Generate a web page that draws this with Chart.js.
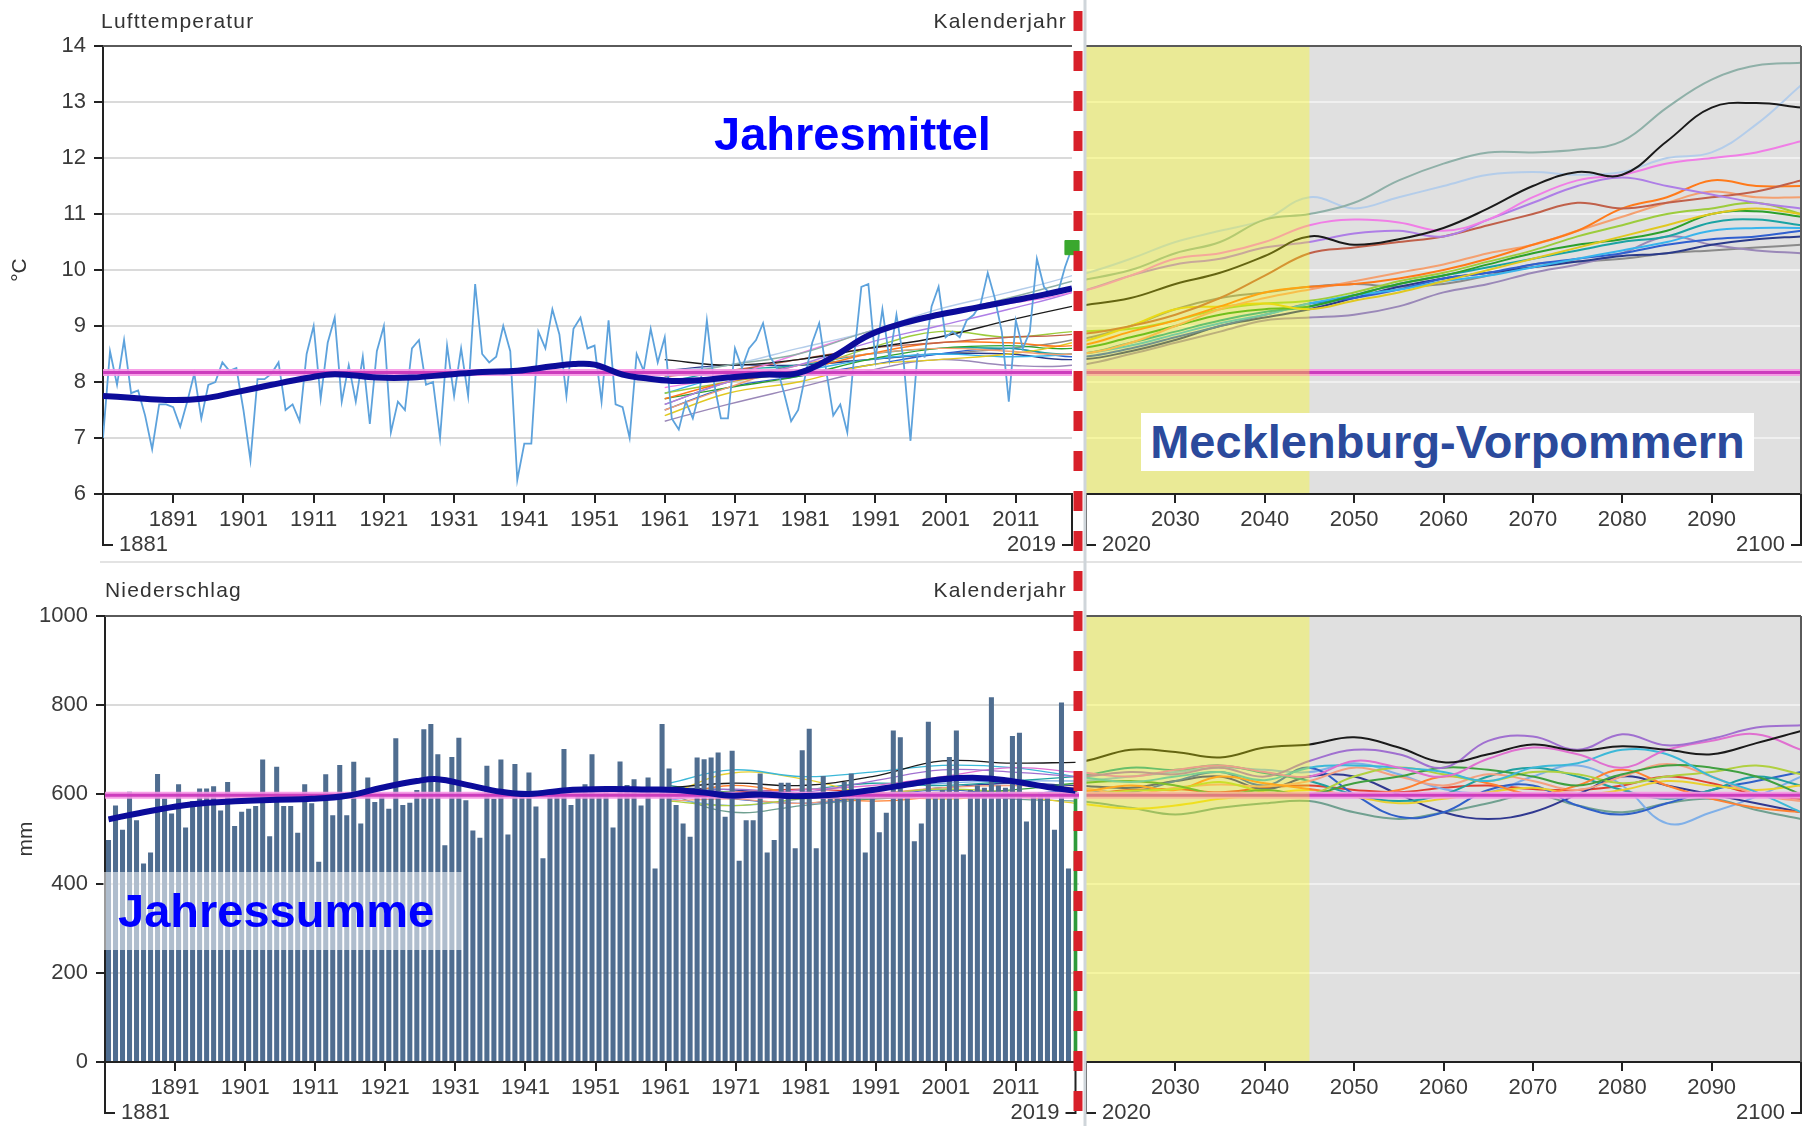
<!DOCTYPE html>
<html lang="de">
<head>
<meta charset="utf-8">
<title>Lufttemperatur und Niederschlag – Mecklenburg-Vorpommern</title>
<script src="https://cdn.jsdelivr.net/npm/chart.js"></script>
<style>
  html, body { margin: 0; padding: 0; background: #fff; }
  #page { position: relative; width: 1802px; height: 1126px; overflow: hidden; font-family: 'Liberation Sans', Arial, sans-serif; }
  canvas { position: absolute; }
  #tempHist { left: 0; top: 0; z-index: 2; }
  #tempProj { left: 1080px; top: 0; z-index: 1; }
  #rainHist { left: 0; top: 562px; z-index: 2; }
  #rainProj { left: 1080px; top: 562px; z-index: 1; }
  #divider { position: absolute; left: 100px; top: 561px; width: 1702px; height: 2px; background: #e3e3e3; }
  .lbl { position: absolute; font-size: 21px; line-height: 25px; letter-spacing: 1.2px; color: #333; white-space: nowrap; z-index: 3; }
  .big { position: absolute; font-weight: bold; font-size: 47px; white-space: nowrap; z-index: 3; }
</style>
</head>
<body>
<div id="page">
  <div id="divider"></div>
  <canvas id="tempHist" width="1090" height="562"></canvas>
  <canvas id="tempProj" width="722" height="562"></canvas>
  <canvas id="rainHist" width="1090" height="564"></canvas>
  <canvas id="rainProj" width="722" height="564"></canvas>

  <div class="lbl" style="left:101px; top:8px;">Lufttemperatur</div>
  <div class="lbl" style="right:735px; top:8px;">Kalenderjahr</div>
  <div class="lbl" style="left:105px; top:577px;">Niederschlag</div>
  <div class="lbl" style="right:735px; top:577px;">Kalenderjahr</div>

  <div class="big" style="left:714px; top:110px; line-height:47px; color:#0000ff;">Jahresmittel</div>
  <div class="big" style="left:1141px; top:413px; width:613px; height:58px; line-height:58px; text-align:center; background:#fff; color:#2b4a9c;">Mecklenburg-Vorpommern</div>
  <div class="big" style="left:103px; top:872px; width:345px; height:78px; line-height:78px; padding-left:15px; background:rgba(255,255,255,0.55); color:#0000ff;">Jahressumme</div>
</div>

<script>
// ---------- data ----------
const YEARS = [];
for (let y = 1881; y <= 2019; y++) YEARS.push(y);

// annual mean air temperature (°C), 1881-2019
const TEMP_ANNUAL = [
  7.0, 8.55, 7.95, 8.75, 7.8, 7.85, 7.4, 6.8, 7.6, 7.6,
  7.55, 7.2, 7.65, 8.15, 7.35, 7.95, 8.0, 8.35, 8.2, 8.25,
  7.5, 6.6, 8.05, 8.05, 8.15, 8.35, 7.5, 7.6, 7.3, 8.5,
  9.0, 7.7, 8.7, 9.15, 7.65, 8.3, 7.65, 8.45, 7.25, 8.55,
  9.0, 7.1, 7.65, 7.5, 8.6, 8.75, 7.95, 8.0, 7.0, 8.65,
  7.75, 8.6, 7.75, 9.75, 8.5, 8.35, 8.45, 9.0, 8.55, 6.25,
  6.9, 6.9, 8.9, 8.6, 9.3, 8.85, 7.75, 8.95, 9.15, 8.6,
  8.65, 7.65, 9.1, 7.6, 7.55, 7.0, 8.5, 8.2, 8.95, 8.35,
  8.8, 7.35, 7.15, 7.65, 7.35, 7.85, 9.1, 8.0, 7.35, 7.35,
  8.6, 8.25, 8.6, 8.75, 9.05, 8.45, 8.25, 7.8, 7.3, 7.5,
  8.1, 8.7, 9.05, 8.2, 7.4, 7.6, 7.1, 8.5, 9.7, 9.75,
  8.4, 9.3, 8.4, 9.2, 8.4, 6.95, 8.5, 8.45, 9.35, 9.7,
  8.8, 8.9, 8.8, 9.1, 9.2, 9.4, 9.95, 9.5, 8.9, 7.65,
  9.1, 8.6, 8.9, 10.2, 9.7, 9.55, 9.6, 10.05, 10.4
];
const TEMP_MEAN = 8.17;
const SMOOTH_T_YEARS = [1881, 1885, 1890, 1895, 1900, 1905, 1910, 1914, 1920, 1925, 1930, 1935, 1940, 1945, 1948, 1951, 1955, 1958, 1962, 1966, 1970, 1975, 1980, 1985, 1990, 1995, 2000, 2005, 2010, 2015, 2019];
const SMOOTH_T = [7.75, 7.72, 7.68, 7.7, 7.82, 7.95, 8.07, 8.14, 8.08, 8.08, 8.13, 8.18, 8.2, 8.28, 8.32, 8.31, 8.13, 8.07, 8.02, 8.03, 8.08, 8.13, 8.16, 8.45, 8.83, 9.05, 9.2, 9.32, 9.44, 9.56, 9.67];

// annual precipitation (mm), 1881-2019
const PRECIP_ANNUAL = [
  498, 575, 521, 606, 542, 445, 470, 646, 591, 557,
  623, 526, 585, 613, 613, 618, 564, 628, 529, 561,
  568, 574, 678, 506, 662, 574, 574, 514, 623, 580,
  449, 645, 553, 666, 553, 673, 535, 638, 583, 602,
  568, 726, 576, 581, 610, 746, 758, 690, 486, 684,
  727, 587, 519, 503, 664, 590, 678, 510, 668, 600,
  649, 573, 457, 595, 600, 702, 576, 600, 623, 690,
  600, 605, 526, 674, 621, 634, 575, 638, 434, 758,
  658, 576, 535, 505, 683, 679, 683, 694, 550, 698,
  451, 542, 542, 647, 470, 498, 626, 626, 479, 699,
  747, 479, 641, 595, 600, 628, 647, 600, 470, 610,
  515, 559, 743, 728, 605, 495, 535, 763, 600, 610,
  684, 743, 465, 610, 620, 615, 818, 620, 615, 731,
  738, 539, 600, 605, 595, 521, 806, 434, 607
];
const PRECIP_MEAN = 598;
const SMOOTH_P_YEARS = [1881, 1886, 1893, 1900, 1905, 1910, 1915, 1920, 1925, 1928, 1932, 1937, 1941, 1946, 1952, 1958, 1962, 1966, 1970, 1974, 1979, 1985, 1990, 1995, 2000, 2005, 2009, 2013, 2016, 2019];
const SMOOTH_P = [544, 560, 578, 585, 588, 590, 597, 615, 630, 634, 622, 606, 601, 609, 612, 611, 610, 604, 597, 600, 596, 600, 610, 622, 634, 637, 632, 622, 614, 608];

// climate model runs (smoothed), sampled years
const MODEL_YEARS = [1961, 1970, 1980, 1990, 2000, 2010, 2019, 2025, 2030, 2035, 2040, 2045, 2050, 2055, 2060, 2065, 2070, 2075, 2080, 2085, 2090, 2095, 2100];

const TEMP_MODELS = [
  [8.1, 8.3, 8.5, 8.9, 9.2, 9.5, 9.8, 10.0, 10.3, 10.5, 10.9, 11.0, 11.2, 11.6, 11.9, 12.1, 12.1, 12.15, 12.3, 12.9, 13.4, 13.65, 13.7],
  [8.4, 8.3, 8.4, 8.6, 8.8, 9.1, 9.35, 9.5, 9.75, 9.95, 10.25, 10.6, 10.45, 10.55, 10.75, 11.1, 11.5, 11.75, 11.7, 12.3, 12.9, 12.98, 12.9],
  [8.2, 8.3, 8.6, 8.9, 9.3, 9.6, 9.9, 10.2, 10.5, 10.7, 10.9, 11.3, 11.1, 11.3, 11.5, 11.7, 11.75, 11.7, 11.75, 12.0, 12.1, 12.6, 13.3],
  [7.9, 8.1, 8.5, 8.9, 9.2, 9.4, 9.6, 9.9, 10.2, 10.3, 10.5, 10.8, 10.9, 10.85, 10.7, 10.9, 11.3, 11.6, 11.7, 11.9, 12.0, 12.1, 12.3],
  [7.6, 8.0, 8.3, 8.7, 9.0, 9.3, 9.6, 9.9, 10.1, 10.2, 10.4, 10.5, 10.65, 10.7, 10.6, 10.9, 11.2, 11.5, 11.65, 11.5, 11.35, 11.2, 11.1],
  [8.1, 8.2, 8.4, 8.6, 8.7, 8.8, 8.85, 9.0, 9.2, 9.5, 9.9, 10.3, 10.4, 10.5, 10.6, 10.8, 11.0, 11.2, 11.1, 11.2, 11.3, 11.4, 11.6],
  [7.7, 8.0, 8.2, 8.5, 8.7, 8.7, 8.65, 8.9, 9.1, 9.35, 9.6, 9.7, 9.75, 9.85, 10.0, 10.2, 10.45, 10.7, 11.1, 11.3, 11.6, 11.5, 11.5],
  [7.5, 7.9, 8.3, 8.5, 8.6, 8.55, 8.5, 8.7, 9.0, 9.3, 9.5, 9.65, 9.8, 9.95, 10.1, 10.3, 10.45, 10.7, 10.95, 11.2, 11.4, 11.3, 11.3],
  [7.4, 7.8, 8.0, 8.3, 8.4, 8.5, 8.7, 9.0, 9.3, 9.35, 9.4, 9.3, 9.45, 9.6, 9.8, 10.0, 10.2, 10.4, 10.6, 10.8, 11.0, 11.1, 11.0],
  [7.8, 8.0, 8.2, 8.6, 8.9, 8.8, 8.9, 8.95, 9.1, 9.3, 9.4, 9.45, 9.6, 9.8, 9.95, 10.15, 10.35, 10.6, 10.8, 11.0, 11.1, 11.2, 11.0],
  [7.7, 7.9, 8.1, 8.4, 8.6, 8.65, 8.6, 8.8, 9.0, 9.2, 9.3, 9.35, 9.55, 9.75, 9.9, 10.1, 10.3, 10.45, 10.55, 10.7, 11.0, 11.05, 10.95],
  [8.0, 8.2, 8.3, 8.5, 8.6, 8.6, 8.5, 8.7, 8.9, 9.1, 9.25, 9.35, 9.55, 9.75, 9.9, 10.05, 10.2, 10.35, 10.5, 10.6, 10.85, 10.9, 10.8],
  [7.8, 8.1, 8.2, 8.4, 8.5, 8.45, 8.5, 8.65, 8.85, 9.05, 9.2, 9.4, 9.55, 9.65, 9.8, 9.9, 10.05, 10.2, 10.35, 10.5, 10.7, 10.75, 10.75],
  [7.5, 7.9, 8.1, 8.3, 8.5, 8.6, 8.45, 8.6, 8.8, 9.0, 9.2, 9.4, 9.5, 9.65, 9.85, 9.95, 10.1, 10.2, 10.3, 10.45, 10.55, 10.6, 10.7],
  [8.2, 8.3, 8.3, 8.4, 8.5, 8.5, 8.4, 8.55, 8.75, 9.0, 9.15, 9.3, 9.5, 9.7, 9.85, 9.95, 10.05, 10.15, 10.25, 10.3, 10.45, 10.55, 10.6],
  [7.3, 7.6, 7.9, 8.2, 8.4, 8.3, 8.3, 8.5, 8.7, 8.9, 9.1, 9.15, 9.2, 9.35, 9.6, 9.75, 9.95, 10.1, 10.3, 10.6, 10.45, 10.35, 10.3],
  [7.6, 8.0, 8.3, 8.4, 8.5, 8.6, 8.75, 9.0, 9.3, 9.5, 9.6, 9.7, 9.75, 9.7, 9.75, 9.9, 10.1, 10.15, 10.2, 10.3, 10.35, 10.4, 10.45]
];
const TEMP_MODEL_COLORS = ['#8fb0a8', '#1a1a1a', '#b4cdea', '#f07ee6', '#ae7ee6', '#c0604a', '#ff7a1a', '#f4a070', '#e0c820', '#9ccc3c', '#2ca02c', '#1aa3a3', '#38b4ec', '#2f5fd0', '#2a3a8a', '#9a88b8', '#8a8a8a'];

const PRECIP_MODELS = [
  [615, 625, 620, 640, 675, 670, 672, 700, 695, 683, 705, 712, 728, 705, 672, 690, 712, 698, 708, 700, 690, 715, 742],
  [600, 612, 605, 630, 655, 650, 640, 650, 645, 660, 640, 675, 700, 690, 660, 720, 730, 700, 735, 710, 725, 750, 755],
  [590, 600, 610, 620, 640, 660, 650, 640, 655, 665, 650, 640, 675, 660, 640, 680, 705, 690, 660, 700, 720, 735, 700],
  [625, 655, 640, 650, 665, 660, 640, 628, 640, 650, 632, 660, 665, 660, 650, 630, 660, 670, 700, 690, 640, 605, 560],
  [610, 605, 595, 590, 600, 610, 625, 630, 620, 600, 610, 600, 625, 640, 660, 655, 640, 620, 645, 665, 660, 640, 600],
  [585, 575, 590, 600, 612, 605, 600, 608, 612, 628, 605, 600, 640, 660, 645, 630, 650, 645, 625, 640, 650, 665, 645],
  [595, 620, 600, 585, 595, 600, 605, 620, 610, 640, 625, 612, 600, 610, 640, 625, 600, 620, 655, 620, 590, 570, 560],
  [585, 590, 580, 600, 615, 620, 615, 600, 615, 622, 618, 630, 660, 640, 620, 645, 630, 610, 640, 668, 640, 600, 585],
  [600, 648, 635, 600, 590, 595, 580, 568, 575, 590, 600, 610, 595, 580, 590, 605, 615, 600, 610, 630, 620, 610, 620],
  [620, 600, 610, 625, 620, 630, 640, 660, 655, 665, 648, 630, 600, 585, 600, 640, 660, 640, 610, 590, 610, 640, 620],
  [605, 590, 580, 595, 610, 600, 610, 605, 630, 650, 620, 660, 600, 550, 560, 610, 620, 575, 555, 580, 610, 630, 650],
  [615, 610, 598, 600, 615, 625, 620, 615, 630, 640, 612, 640, 640, 600, 560, 545, 560, 600, 640, 620, 600, 580, 560],
  [590, 575, 590, 612, 625, 630, 630, 640, 650, 660, 655, 650, 670, 645, 612, 605, 640, 665, 620, 535, 560, 595, 640],
  [600, 560, 575, 590, 605, 590, 585, 570, 555, 570, 580, 585, 560, 545, 560, 580, 600, 575, 560, 580, 590, 565, 545],
  [600, 605, 612, 605, 600, 598, 600, 610, 612, 605, 615, 620, 610, 605, 615, 620, 612, 610, 620, 640, 625, 600, 590]
];
const PRECIP_MODEL_COLORS = ['#1a1a1a', '#a070d0', '#e070d0', '#3cb8d8', '#40a040', '#b0d040', '#ff8030', '#f4a080', '#e8d030', '#20a0a0', '#3060c8', '#303890', '#80b0e8', '#70a090', '#e04030'];

const TICKS_HIST = [1891, 1901, 1911, 1921, 1931, 1941, 1951, 1961, 1971, 1981, 1991, 2001, 2011];
const TICKS_PROJ = [2030, 2040, 2050, 2060, 2070, 2080, 2090];
const NEAR_FUTURE = [2020, 2045];

// ---------- styling ----------
Chart.defaults.font.family = "'Liberation Sans', Arial, sans-serif";
Chart.defaults.color = '#3a3a3a';
Chart.defaults.animation = false;

const TICK_FONT = { size: 22 };
const AXIS_DARK = '#222';
const SEP_X = 1078;

function pts(xs, ys) {
  return xs.map((x, i) => ({ x, y: ys[i] }));
}

function modelSets(models, colors, xOf, width) {
  return models.map((vals, k) => ({
    type: 'line',
    data: MODEL_YEARS.map((yr, i) => ({ x: xOf(yr), y: vals[i] })).filter(p => p.x !== null),
    borderColor: colors[k],
    borderWidth: width,
    pointRadius: 0,
    tension: 0.4,
    order: 5
  }));
}

function refLine(chart, value) {
  const { ctx, chartArea: a, scales: { y } } = chart;
  const py = y.getPixelForValue(value);
  ctx.save();
  ctx.beginPath();
  ctx.rect(a.left, a.top, a.right - a.left, a.bottom - a.top);
  ctx.clip();
  ctx.lineWidth = 7;
  ctx.strokeStyle = 'rgba(246,150,228,0.9)';
  ctx.beginPath(); ctx.moveTo(a.left, py); ctx.lineTo(a.right, py); ctx.stroke();
  ctx.lineWidth = 3;
  ctx.strokeStyle = '#cc3dbd';
  ctx.beginPath(); ctx.moveTo(a.left, py); ctx.lineTo(a.right, py); ctx.stroke();
  ctx.restore();
}

const decor = {
  id: 'decor',
  beforeDraw(chart, args, o) {
    if (!o.background) return;
    const { ctx, chartArea: a } = chart;
    ctx.save();
    ctx.fillStyle = o.background;
    ctx.fillRect(a.left, a.top, a.right - a.left, a.bottom - a.top);
    ctx.restore();
  },
  beforeDatasetDraw(chart, args, o) {
    if (!o.onTop && chart.data.datasets[args.index].smooth) refLine(chart, o.ref);
  },
  afterDatasetsDraw(chart, args, o) {
    if (o.onTop) refLine(chart, o.ref);
    if (o.band) {
      // near future period, drawn as a translucent yellow wash
      const { ctx, chartArea: a, scales: { x } } = chart;
      ctx.save();
      ctx.fillStyle = 'rgba(255,255,0,0.33)';
      ctx.fillRect(a.left, a.top, x.getPixelForValue(o.band[1]) - a.left, a.bottom - a.top - 1);
      ctx.restore();
    }
  },
  afterDraw(chart, args, o) {
    const { ctx, chartArea: a, scales: { x } } = chart;
    ctx.save();
    ctx.strokeStyle = '#5a5a5a';
    ctx.lineWidth = 2;
    ctx.beginPath(); ctx.moveTo(a.left, a.top); ctx.lineTo(a.right, a.top); ctx.stroke();
    if (o.rightFrame) {
      ctx.beginPath(); ctx.moveTo(a.right, a.top); ctx.lineTo(a.right, a.bottom); ctx.stroke();
    }

    // range brackets below the axis
    ctx.strokeStyle = AXIS_DARK;
    ctx.fillStyle = '#3a3a3a';
    ctx.font = "22px 'Liberation Sans', Arial, sans-serif";
    ctx.textBaseline = 'middle';
    const yb = a.bottom + 51;
    const x0 = x.getPixelForValue(o.ends[0]);
    const x1 = x.getPixelForValue(o.ends[1]);
    ctx.beginPath();
    ctx.moveTo(x0, a.bottom); ctx.lineTo(x0, yb); ctx.lineTo(x0 + 10, yb);
    ctx.moveTo(x1, a.bottom); ctx.lineTo(x1, yb); ctx.lineTo(x1 - 10, yb);
    ctx.stroke();
    ctx.textAlign = 'left';
    ctx.fillText(o.endLabels[0], x0 + 16, yb);
    ctx.textAlign = 'right';
    ctx.fillText(o.endLabels[1], x1 - 16, yb);

    // boundary between observation and projection
    if (o.separator) {
      const top = chart.canvas.offsetTop;
      ctx.strokeStyle = '#cfd5da';
      ctx.lineWidth = 3;
      ctx.beginPath(); ctx.moveTo(SEP_X + 7, 0); ctx.lineTo(SEP_X + 7, chart.height); ctx.stroke();
      ctx.strokeStyle = '#d8202a';
      ctx.lineWidth = 9;
      ctx.setLineDash([20, 20]);
      ctx.lineDashOffset = ((top - 11) % 40 + 40) % 40;
      ctx.beginPath(); ctx.moveTo(SEP_X, 0); ctx.lineTo(SEP_X, chart.height); ctx.stroke();
    }
    ctx.restore();
  }
};

const baseOpts = {
  responsive: false,
  devicePixelRatio: 1,
  events: [],
  plugins: { legend: { display: false }, tooltip: { enabled: false } }
};

function yLeft(min, max, step, title, width, titlePad) {
  return {
    min, max,
    ticks: { stepSize: step, font: TICK_FONT, padding: 8, callback: v => String(v) },
    grid: { color: '#dadada', lineWidth: 2, tickLength: 9, tickColor: AXIS_DARK },
    border: { color: AXIS_DARK, width: 2 },
    title: { display: true, text: title, font: { size: 21 }, color: '#333', padding: { top: titlePad, bottom: 0 } },
    afterFit: s => { s.width = width; }
  };
}

function yRight(min, max, step) {
  return {
    min, max,
    ticks: { stepSize: step, display: false },
    grid: { color: 'rgba(255,255,255,0.5)', lineWidth: 2, drawTicks: false },
    border: { display: false },
    afterFit: s => { s.width = 0; }
  };
}

function xLinear(min, max, ticks, height) {
  return {
    type: 'linear', min, max,
    afterBuildTicks: s => { s.ticks = ticks.map(v => ({ value: v })); },
    grid: { drawOnChartArea: false, tickLength: 9, lineWidth: 2, tickColor: AXIS_DARK },
    border: { color: AXIS_DARK, width: 2 },
    ticks: { font: TICK_FONT, padding: 4, maxRotation: 0, callback: v => String(v) },
    afterFit: s => { s.height = height; }
  };
}

// ---------- Lufttemperatur 1881-2019 ----------
new Chart(document.getElementById('tempHist'), {
  type: 'line',
  data: {
    datasets: [
      {
        data: [{ x: YEARS[YEARS.length - 1], y: TEMP_ANNUAL[TEMP_ANNUAL.length - 1] }],
        showLine: false, pointStyle: 'rect', pointRadius: 10,
        backgroundColor: '#3aa82e', borderColor: '#3aa82e', clip: false, order: 0
      },
      {
        data: pts(SMOOTH_T_YEARS, SMOOTH_T), smooth: true,
        borderColor: '#0c0c9a', borderWidth: 6, tension: 0.4, pointRadius: 0, order: 1
      },
      {
        data: pts(YEARS, TEMP_ANNUAL),
        borderColor: '#5da2dc', borderWidth: 1.8, tension: 0, pointRadius: 0, order: 2
      },
      ...modelSets(TEMP_MODELS, TEMP_MODEL_COLORS, yr => yr, 1.4)
    ]
  },
  options: {
    ...baseOpts,
    layout: { padding: { top: 46, right: 18, bottom: 0, left: 0 } },
    scales: {
      x: xLinear(1881, 2019, TICKS_HIST, 68),
      y: yLeft(6, 14, 1, '°C', 103, 8)
    },
    plugins: {
      ...baseOpts.plugins,
      decor: { ref: TEMP_MEAN, onTop: false, ends: [1881, 2019], endLabels: ['1881', '2019'], separator: true }
    }
  },
  plugins: [decor]
});

// ---------- Lufttemperatur 2020-2100 ----------
new Chart(document.getElementById('tempProj'), {
  type: 'line',
  data: { datasets: modelSets(TEMP_MODELS, TEMP_MODEL_COLORS, yr => yr, 2) },
  options: {
    ...baseOpts,
    layout: { padding: { top: 46, right: 1, bottom: 0, left: 6 } },
    scales: {
      x: xLinear(2020, 2100, TICKS_PROJ, 68),
      y: yRight(6, 14, 1)
    },
    plugins: {
      ...baseOpts.plugins,
      decor: { ref: TEMP_MEAN, onTop: true, background: '#e0e0e0', band: NEAR_FUTURE, ends: [2020, 2100], endLabels: ['2020', '2100'], rightFrame: true }
    }
  },
  plugins: [decor]
});

// ---------- Niederschlag 1881-2019 ----------
new Chart(document.getElementById('rainHist'), {
  type: 'bar',
  data: {
    labels: YEARS.map(String),
    datasets: [
      {
        type: 'line', data: pts(SMOOTH_P_YEARS.map(String), SMOOTH_P), smooth: true,
        borderColor: '#0c0c9a', borderWidth: 6, tension: 0.4, pointRadius: 0, order: 0
      },
      {
        data: [{ x: String(YEARS[YEARS.length - 1]), y: PRECIP_ANNUAL[PRECIP_ANNUAL.length - 1] }],
        backgroundColor: '#2e9a3a', barThickness: 3, grouped: false, order: 1
      },
      {
        data: PRECIP_ANNUAL.slice(0, -1),
        backgroundColor: '#4f6d90', barPercentage: 0.72, categoryPercentage: 1, grouped: false, order: 2
      },
      ...modelSets(PRECIP_MODELS, PRECIP_MODEL_COLORS, yr => (yr <= 2019 ? String(yr) : null), 1.3)
    ]
  },
  options: {
    ...baseOpts,
    layout: { padding: { top: 54, right: 11, bottom: 0, left: 0 } },
    scales: {
      x: {
        type: 'category', offset: true,
        grid: {
          offset: true, drawOnChartArea: false, tickLength: 9, lineWidth: 2,
          tickColor: c => (TICKS_HIST.includes(YEARS[c.index]) ? AXIS_DARK : 'rgba(0,0,0,0)')
        },
        border: { color: AXIS_DARK, width: 2 },
        ticks: {
          autoSkip: false, maxRotation: 0, font: TICK_FONT, padding: 4, labelOffset: -3.5,
          callback: (v, i) => (TICKS_HIST.includes(YEARS[i]) ? String(YEARS[i]) : '')
        },
        afterFit: s => { s.height = 64; }
      },
      y: yLeft(0, 1000, 200, 'mm', 105, 14)
    },
    plugins: {
      ...baseOpts.plugins,
      decor: { ref: PRECIP_MEAN, onTop: false, ends: [-0.5, YEARS.length - 1], endLabels: ['1881', '2019'], separator: true }
    }
  },
  plugins: [decor]
});

// ---------- Niederschlag 2020-2100 ----------
new Chart(document.getElementById('rainProj'), {
  type: 'line',
  data: { datasets: modelSets(PRECIP_MODELS, PRECIP_MODEL_COLORS, yr => yr, 2) },
  options: {
    ...baseOpts,
    layout: { padding: { top: 54, right: 1, bottom: 0, left: 6 } },
    scales: {
      x: xLinear(2020, 2100, TICKS_PROJ, 64),
      y: yRight(0, 1000, 200)
    },
    plugins: {
      ...baseOpts.plugins,
      decor: { ref: PRECIP_MEAN, onTop: true, background: '#e0e0e0', band: NEAR_FUTURE, ends: [2020, 2100], endLabels: ['2020', '2100'], rightFrame: true }
    }
  },
  plugins: [decor]
});
</script>
</body>
</html>
